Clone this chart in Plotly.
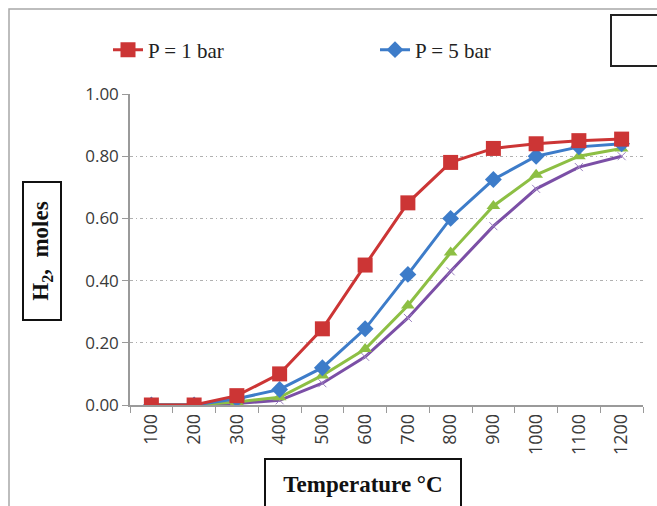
import plotly.graph_objects as go

temps = ["100", "200", "300", "400", "500", "600", "700", "800", "900", "1000", "1100", "1200"]
p1_bar = [0.00, 0.00, 0.03, 0.10, 0.245, 0.45, 0.65, 0.78, 0.825, 0.84, 0.85, 0.855]
p5_bar = [0.00, 0.00, 0.02, 0.05, 0.12, 0.245, 0.42, 0.60, 0.725, 0.80, 0.83, 0.84]
p10_bar = [0.00, 0.00, 0.01, 0.025, 0.095, 0.18, 0.32, 0.49, 0.64, 0.74, 0.80, 0.825]
p20_bar = [0.00, 0.00, 0.005, 0.015, 0.07, 0.155, 0.28, 0.43, 0.575, 0.695, 0.765, 0.80]
y_ticks = [0.0, 0.2, 0.4, 0.6, 0.8, 1.0]

W, H = 657, 506
L, R, T, B = 130, 14, 94, 101
pw, ph = W - L - R, H - T - B


def px(xp):
    return (xp - L) / pw


def py(yp):
    return (H - B - yp) / ph


fig = go.Figure()
fig.add_trace(go.Scatter(x=temps, y=p20_bar, name="P = 20 bar", mode="lines+markers",
                         line=dict(color="#7B4FA6", width=3),
                         marker=dict(symbol="x-thin", size=8, line=dict(color="#9a7fc0", width=1)),
                         showlegend=False))
fig.add_trace(go.Scatter(x=temps, y=p10_bar, name="P = 10 bar", mode="lines+markers",
                         line=dict(color="#8DBF44", width=3),
                         marker=dict(symbol="triangle-up", size=12, color="#8DBF44"),
                         showlegend=False))
fig.add_trace(go.Scatter(x=temps, y=p5_bar, name="P = 5 bar", mode="lines+markers",
                         line=dict(color="#3D7CC9", width=3),
                         marker=dict(symbol="diamond", size=13, color="#3D7CC9")))
fig.add_trace(go.Scatter(x=temps, y=p1_bar, name="P = 1 bar", mode="lines+markers",
                         line=dict(color="#CC3535", width=3),
                         marker=dict(symbol="square", size=15, color="#CC3535")))

fig.update_layout(
    width=W, height=H,
    margin=dict(l=L, r=R, t=T, b=B),
    paper_bgcolor="white", plot_bgcolor="white",
    showlegend=True,
    legend=dict(orientation="h", x=px(108), xanchor="left", y=py(50), yanchor="middle",
                traceorder="reversed", entrywidth=222, bgcolor="rgba(0,0,0,0)",
                font=dict(family="Liberation Serif", size=21, color="#222")),
    xaxis=dict(type="category", range=[-0.5, 11.5], showgrid=False,
               showline=True, linecolor="#9a9a9a", linewidth=1.5,
               ticks="outside", tickson="boundaries", ticklen=6, tickcolor="#9a9a9a",
               tickangle=-90, tickfont=dict(family="Open Sans", size=18, color="#3a3a3a")),
    yaxis=dict(range=[0, 1.0], tickvals=y_ticks, tickformat=".2f",
               showgrid=True, gridcolor="#b0b0b0", gridwidth=1, griddash="3px,3px,1px,3px",
               zeroline=False, showline=True, linecolor="#9a9a9a", linewidth=1.5,
               ticks="outside", ticklen=6, tickcolor="#9a9a9a",
               tickfont=dict(family="Open Sans", size=17, color="#3a3a3a")),
    shapes=[
        dict(type="rect", xref="paper", yref="paper", x0=px(9), x1=px(700), y0=py(560), y1=py(9),
             line=dict(color="#a8a8a8", width=1.5)),
        dict(type="rect", xref="paper", yref="paper", x0=px(611), x1=px(700), y0=py(66), y1=py(15),
             line=dict(color="#222", width=2)),
    ],
    annotations=[
        dict(xref="paper", yref="paper", x=px(42), y=py(251), xanchor="center", yanchor="middle",
             text="<b>H<sub>2</sub>,  moles</b>", textangle=-90, showarrow=False,
             font=dict(family="Liberation Serif", size=23, color="#111"),
             bordercolor="#111", borderwidth=2, borderpad=2, width=132, height=32),
        dict(xref="paper", yref="paper", x=px(363), y=py(458), xanchor="center", yanchor="top",
             text="<b>Temperature °C</b>", showarrow=False,
             font=dict(family="Liberation Serif", size=23, color="#111"),
             bordercolor="#111", borderwidth=2, borderpad=2, width=190, height=44),
    ],
)

fig.write_html("out.html")
